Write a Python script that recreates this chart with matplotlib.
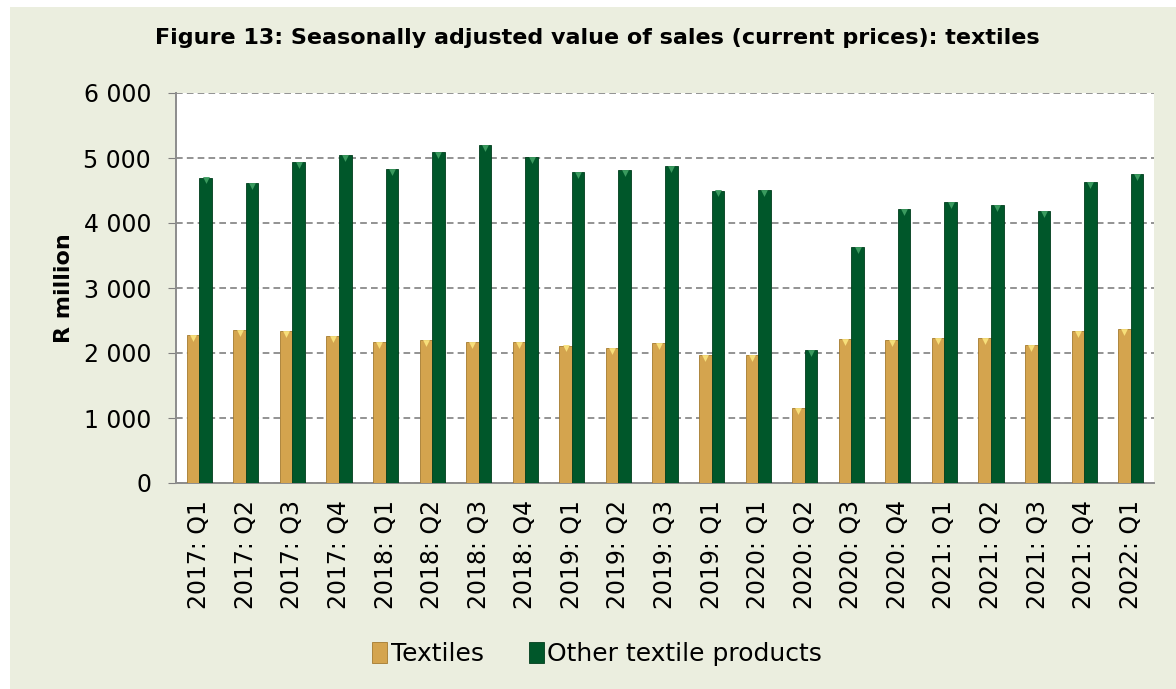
import numpy as np
import matplotlib
matplotlib.use("Agg")
import matplotlib.pyplot as plt
from matplotlib.patches import Rectangle

quarters = ["2017: Q1", "2017: Q2", "2017: Q3", "2017: Q4",
            "2018: Q1", "2018: Q2", "2018: Q3", "2018: Q4",
            "2019: Q1", "2019: Q2", "2019: Q3", "2019: Q1",
            "2020: Q1", "2020: Q2", "2020: Q3", "2020: Q4",
            "2021: Q1", "2021: Q2", "2021: Q3", "2021: Q4",
            "2022: Q1"]
textiles = [2280, 2350, 2340, 2260, 2165, 2195, 2170, 2170,
            2115, 2070, 2155, 1965, 1975, 1160, 2210, 2195,
            2225, 2230, 2120, 2335, 2375]
other_textiles = [4700, 4615, 4935, 5040, 4825, 5085, 5205, 5015,
                  4780, 4815, 4870, 4500, 4505, 2050, 3635, 4215,
                  4325, 4280, 4180, 4625, 4755]

gold = "#d4a44e"
gold_edge = "#a47a2e"
gold_top = "#f7df7a"
green = "#00572a"
green_edge = "#003d1c"
green_top = "#3a9a5e"
bg = "#ebeedf"

plt.rcParams["font.family"] = ["DejaVu Sans"]

fig = plt.figure(figsize=(11.76, 6.89), dpi=100, facecolor="white")
fig.patches.append(Rectangle((10 / 1176, 0), 1, 1 - 7 / 689,
                             transform=fig.transFigure, facecolor=bg,
                             edgecolor="none", zorder=-10))

ax = fig.add_axes([176 / 1176, 1 - 483 / 689, 978 / 1176, 390 / 689])
ax.set_facecolor("white")

x = np.arange(len(quarters))
w = 0.27
ax.bar(x - w / 2, textiles, w, color=gold, edgecolor=gold_edge,
       linewidth=0.6, label="Textiles", zorder=3)
ax.bar(x + w / 2, other_textiles, w, color=green, edgecolor=green_edge,
       linewidth=0.6, label="Other textile products", zorder=3)
# bevel highlight at the top of each bar
ax.scatter(x - w / 2, np.array(textiles) - 45, marker="v", s=24,
           color=gold_top, linewidths=0, zorder=4)
ax.scatter(x + w / 2, np.array(other_textiles) - 45, marker="v", s=24,
           color=green_top, linewidths=0, zorder=4)

ax.set_ylim(0, 6000)
ax.set_xlim(-0.5, len(quarters) - 0.5)
ax.set_yticks(range(0, 6001, 1000))
ax.set_yticklabels(["0", "1 000", "2 000", "3 000", "4 000", "5 000", "6 000"])
ax.yaxis.grid(True, linestyle=(0, (4, 2.5)), color="#808080", linewidth=1.2)
ax.set_axisbelow(True)
ax.tick_params(axis="y", labelsize=17, length=6, color="#808080", pad=12)
ax.set_xticks(x)
ax.set_xticklabels(quarters, rotation=90, fontsize=17)
ax.tick_params(axis="x", length=0, pad=12)
for side in ["top", "right"]:
    ax.spines[side].set_visible(False)
for side in ["left", "bottom"]:
    ax.spines[side].set_color("#8c8c8c")
    ax.spines[side].set_linewidth(1.4)

ax.set_ylabel("R million", fontsize=16, fontweight="bold", labelpad=7)
fig.text(597 / 1176, 1 - 38 / 689,
         "Figure 13: Seasonally adjusted value of sales (current prices): textiles",
         ha="center", va="center", fontsize=16, fontweight="bold")

leg = fig.legend(loc="center", bbox_to_anchor=(597 / 1176, 1 - 654 / 689), ncol=2,
                 frameon=False, fontsize=18, handlelength=0.6, handleheight=0.9,
                 handletextpad=0.15, columnspacing=1.8)

fig.savefig("out.png", dpi=100, facecolor=fig.get_facecolor())
